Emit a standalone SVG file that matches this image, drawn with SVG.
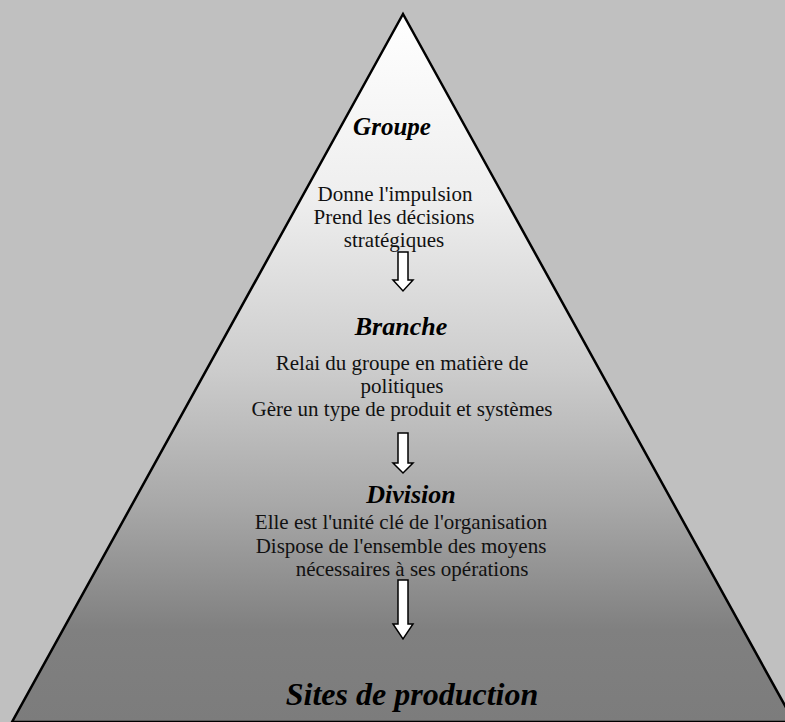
<svg xmlns="http://www.w3.org/2000/svg" width="785" height="722" viewBox="0 0 785 722">
<defs>
<linearGradient id="pyr" gradientUnits="userSpaceOnUse" x1="0" y1="14" x2="0" y2="722">
<stop offset="0" stop-color="#ffffff"/>
<stop offset="0.263" stop-color="#eeeeee"/>
<stop offset="0.503" stop-color="#cccccc"/>
<stop offset="0.693" stop-color="#a8a8a8"/>
<stop offset="0.87" stop-color="#808080"/>
<stop offset="1" stop-color="#7c7c7c"/>
</linearGradient>
<style>
.h{font-family:"Liberation Serif","Times New Roman",serif;font-weight:bold;font-style:italic;fill:#000;text-anchor:middle}
.t{font-family:"Liberation Serif","Times New Roman",serif;font-size:21px;fill:#111;text-anchor:middle}
.arr{fill:#fff;stroke:#000;stroke-width:1.5}
</style>
</defs>
<rect width="785" height="722" fill="#c0c0c0"/>
<g id="pyramid">
<polygon points="403,14 12,722 794,722" fill="url(#pyr)" stroke="#000" stroke-width="2.5"/>
</g>
<g id="groupe">
<text class="h" x="392" y="135" font-size="25">Groupe</text>
<text class="t" x="395" y="201">Donne l'impulsion</text>
<text class="t" x="394" y="224">Prend les décisions</text>
<text class="t" x="394" y="247">stratégiques</text>
</g>
<g id="branche">
<text class="h" x="401" y="335" font-size="26">Branche</text>
<text class="t" x="402" y="370">Relai du groupe en matière de</text>
<text class="t" x="402" y="393">politiques</text>
<text class="t" x="402" y="416">Gère un type de produit et systèmes</text>
</g>
<g id="division">
<text class="h" x="411" y="503" font-size="26">Division</text>
<text class="t" x="401" y="529">Elle est l'unité clé de l'organisation</text>
<text class="t" x="401" y="553">Dispose de l'ensemble des moyens</text>
<text class="t" x="412" y="576">nécessaires à ses opérations</text>
</g>
<g id="sites">
<text class="h" x="412" y="705" font-size="32">Sites de production</text>
</g>
<g id="connectors">
<polygon class="arr" points="398,252 408,252 408,280 413,280 403,291 393,280 398,280"/>
<polygon class="arr" points="398,433 408,433 408,463 413,463 403,473 393,463 398,463"/>
<polygon class="arr" points="398,580 408,580 408,624 413,624 403,639 393,624 398,624"/>
</g>
</svg>
